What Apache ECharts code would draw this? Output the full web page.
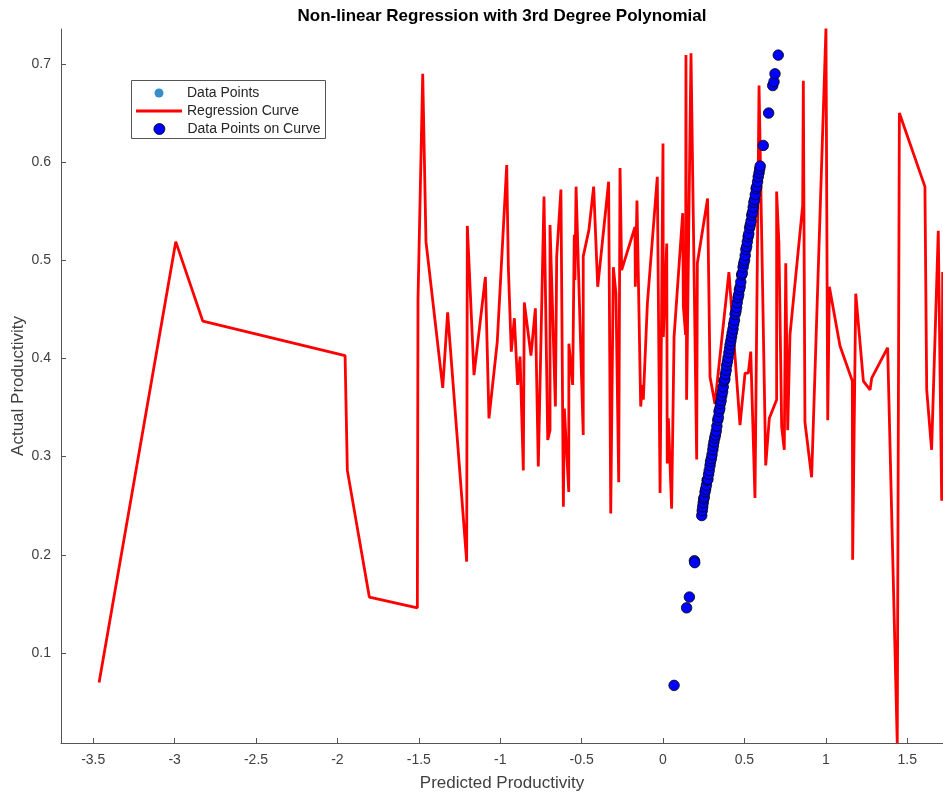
<!DOCTYPE html>
<html>
<head>
<meta charset="utf-8">
<script src="https://cdn.jsdelivr.net/npm/echarts@6/dist/echarts.min.js"></script>
<style>
html,body{margin:0;padding:0;background:#fff;}
#chart{width:943px;height:798px;}
</style>
</head>
<body>
<div id="chart"></div>
<script>
// Regression curve (x = predicted, y = actual), in plotted order
const curveX = [-3.464,-2.993,-2.827,-1.953,-1.939,-1.804,-1.509,-1.505,-1.476,-1.456,
  -1.353,-1.323,-1.206,-1.202,-1.161,-1.091,-1.069,-1.018,-0.960,-0.950,
  -0.932,-0.913,-0.893,-0.878,-0.858,-0.852,-0.811,-0.784,-0.766,-0.731,
  -0.708,-0.694,-0.694,-0.661,-0.653,-0.627,-0.612,-0.606,-0.579,-0.578,
  -0.555,-0.545,-0.541,-0.534,-0.490,-0.490,-0.455,-0.426,-0.401,-0.334,
  -0.321,-0.305,-0.289,-0.272,-0.264,-0.254,-0.172,-0.170,-0.160,-0.137,
  -0.127,-0.121,-0.096,-0.035,-0.018,0.000,0.002,0.023,0.026,0.033,
  0.053,0.068,0.121,0.125,0.139,0.141,0.145,0.172,0.207,0.211,
  0.274,0.289,0.319,0.405,0.473,0.504,0.524,0.539,0.565,0.590,
  0.631,0.653,0.698,0.698,0.712,0.729,0.745,0.754,0.766,0.780,
  0.858,0.862,0.872,0.913,1.001,1.012,1.022,1.087,1.163,1.165,
  1.184,1.231,1.272,1.282,1.380,1.439,1.452,1.609,1.620,1.650,
  1.691,1.712,1.718];
const curveY = [0.070,0.519,0.438,0.403,0.286,0.157,0.146,0.460,0.690,0.519,
  0.370,0.447,0.193,0.535,0.383,0.483,0.339,0.417,0.597,0.493,
  0.407,0.441,0.373,0.402,0.286,0.457,0.403,0.451,0.290,0.565,
  0.317,0.327,0.536,0.351,0.504,0.572,0.249,0.349,0.264,0.415,
  0.373,0.526,0.480,0.575,0.322,0.504,0.531,0.575,0.473,0.580,
  0.242,0.493,0.466,0.274,0.594,0.490,0.534,0.473,0.561,0.351,
  0.373,0.358,0.456,0.585,0.263,0.619,0.422,0.517,0.293,0.339,
  0.247,0.422,0.548,0.453,0.424,0.709,0.358,0.711,0.297,0.497,
  0.563,0.381,0.354,0.488,0.332,0.385,0.385,0.407,0.258,0.678,
  0.291,0.339,0.358,0.570,0.517,0.330,0.307,0.497,0.327,0.424,
  0.556,0.683,0.335,0.279,0.736,0.337,0.473,0.413,0.377,0.195,
  0.466,0.377,0.368,0.380,0.411,0.008,0.650,0.575,0.368,0.307,
  0.530,0.255,0.488];

// Data points (on curve)
const pointX = [0.068,0.145,0.162,0.193,0.195,
  0.238,0.241,0.244,0.247,0.250,0.254,0.258,0.262,0.267,0.271,
  0.276,0.280,0.284,0.289,0.292,0.297,0.301,0.306,0.309,0.313,
  0.318,0.322,0.327,0.331,0.336,0.340,0.344,0.349,0.352,0.357,
  0.361,0.366,0.370,0.375,0.380,0.383,0.388,0.391,0.396,0.400,
  0.405,0.409,0.412,0.417,0.421,0.425,0.430,0.434,0.439,0.443,
  0.448,0.452,0.456,0.461,0.465,0.469,0.474,0.478,0.483,0.487,
  0.492,0.496,0.501,0.505,0.509,0.514,0.518,0.523,0.527,0.532,
  0.536,0.541,0.545,0.550,0.554,0.558,0.563,0.567,0.572,0.576,
  0.581,0.585,0.590,0.594,0.597,
  0.616,0.649,0.674,0.682,0.688,0.708];
const pointY = [0.067,0.146,0.157,0.194,0.192,
  0.240,0.245,0.249,0.253,0.257,0.259,0.264,0.267,0.271,0.276,
  0.277,0.282,0.286,0.291,0.295,0.298,0.302,0.307,0.311,0.315,
  0.319,0.322,0.326,0.331,0.337,0.340,0.346,0.349,0.354,0.357,
  0.362,0.366,0.371,0.377,0.379,0.384,0.388,0.393,0.397,0.401,
  0.406,0.410,0.414,0.418,0.422,0.426,0.430,0.435,0.439,0.445,
  0.448,0.452,0.457,0.462,0.465,0.470,0.473,0.478,0.485,0.487,
  0.493,0.497,0.500,0.505,0.511,0.514,0.519,0.524,0.527,0.533,
  0.536,0.540,0.546,0.549,0.554,0.559,0.562,0.567,0.573,0.575,
  0.580,0.585,0.589,0.593,0.596,
  0.617,0.650,0.678,0.682,0.690,0.709];

const xTicks = [-3.5,-3,-2.5,-2,-1.5,-1,-0.5,0,0.5,1,1.5];
const yTicks = [0.1,0.2,0.3,0.4,0.5,0.6,0.7];
const xLimits = [-3.698, 1.72];
const yLimits = [0.0083, 0.7356];

const FONT = "'Liberation Sans', Arial, Helvetica, sans-serif";
const AXIS_COLOR = '#555555';
const TEXT_COLOR = '#404040';

const curveData = curveX.map((x, i) => [x, curveY[i]]);
const pointData = pointX.map((x, i) => [x, pointY[i]]);

const chart = echarts.init(document.getElementById('chart'));
const legendText = { color: '#262626', fontSize: 14, fontFamily: FONT };
chart.setOption({
  animation: false,
  backgroundColor: '#ffffff',
  title: {
    text: 'Non-linear Regression with 3rd Degree Polynomial',
    left: 497, top: 3, textAlign: 'center',
    textStyle: { fontFamily: FONT, fontWeight: 'bold', fontSize: 17, color: '#000' }
  },
  grid: { left: 61, right: 0, top: 29, bottom: 55, containLabel: false, outerBoundsMode: 'none' },
  xAxis: {
    type: 'value', min: xLimits[0], max: xLimits[1],
    name: 'Predicted Productivity', nameLocation: 'middle', nameGap: 32, nameMoveOverlap: false,
    nameTextStyle: { fontFamily: FONT, fontSize: 17, color: TEXT_COLOR },
    axisLine: { show: true, onZero: false, lineStyle: { color: AXIS_COLOR, width: 1 } },
    axisTick: { show: true, inside: true, length: 5, customValues: xTicks, lineStyle: { color: AXIS_COLOR } },
    axisLabel: { customValues: xTicks, margin: 10, fontFamily: FONT, fontSize: 14, color: TEXT_COLOR },
    splitLine: { show: false }
  },
  yAxis: {
    type: 'value', min: yLimits[0], max: yLimits[1],
    name: 'Actual Productivity', nameLocation: 'middle', nameGap: 34, nameMoveOverlap: false,
    nameTextStyle: { fontFamily: FONT, fontSize: 17, color: TEXT_COLOR },
    axisLine: { show: true, onZero: false, lineStyle: { color: AXIS_COLOR, width: 1 } },
    axisTick: { show: true, inside: true, length: 5, customValues: yTicks, lineStyle: { color: AXIS_COLOR } },
    axisLabel: { customValues: yTicks, margin: 10, fontFamily: FONT, fontSize: 14, color: TEXT_COLOR },
    splitLine: { show: false }
  },
  graphic: [{
    type: 'rect', left: 131, top: 80, z: 3,
    shape: { width: 194, height: 58 },
    style: { fill: '#ffffff', stroke: '#555555', lineWidth: 1 }
  }],
  legend: [
    { z: 10, left: 154.5, top: 86, padding: 0, orient: 'vertical', itemWidth: 46, itemHeight: 9, itemGap: 0,
      textStyle: legendText,
      data: [{ name: 'Data Points', icon: 'circle', itemStyle: { color: '#0072BD', borderWidth: 0 } }] },
    { z: 10, left: 136, top: 104, padding: 0, orient: 'vertical', itemWidth: 46, itemHeight: 3, itemGap: 0,
      textStyle: legendText,
      data: [{ name: 'Regression Curve', icon: 'rect', itemStyle: { color: '#ff0000', borderWidth: 0 } }] },
    { z: 10, left: 153.5, top: 122, padding: 0, orient: 'vertical', itemWidth: 46, itemHeight: 11, itemGap: 0,
      textStyle: legendText,
      data: [{ name: 'Data Points on Curve', icon: 'circle', itemStyle: { color: '#0000ff', borderColor: '#000', borderWidth: 0.8 } }] }
  ],
  series: [
    { name: 'Data Points', type: 'scatter', data: pointData, symbolSize: 6,
      itemStyle: { color: '#0072BD' }, z: 2 },
    { name: 'Regression Curve', type: 'line', data: curveData, showSymbol: false, symbol: 'none',
      lineStyle: { color: '#ff0000', width: 2.8 }, itemStyle: { color: '#ff0000' }, z: 3 },
    { name: 'Data Points on Curve', type: 'scatter', data: pointData, symbolSize: 10.5,
      itemStyle: { color: '#0000ff', borderColor: '#000', borderWidth: 0.8, opacity: 1 }, z: 4 }
  ]
});
</script>
</body>
</html>
